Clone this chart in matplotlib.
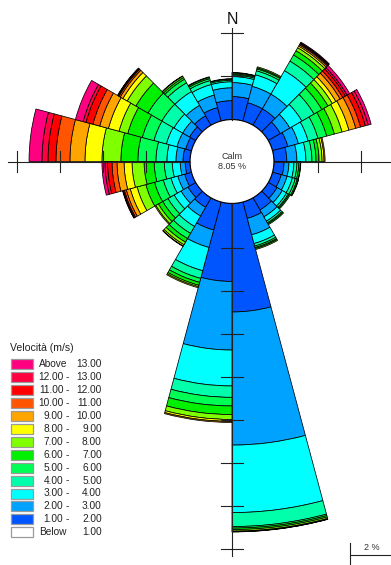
import numpy as np
import matplotlib
matplotlib.use('Agg')
import matplotlib.pyplot as plt
from matplotlib.patches import Circle, Rectangle

plt.rcParams['font.family'] = ['Liberation Sans', 'DejaVu Sans']

# ---------------- data (frequency %, 24 sectors of 15 deg, clockwise from N) -------------
sector_start = np.arange(0, 360, 15)
calm_pct = 8.05

spd_01_02 = [1.07, 0.88, 0.88, 0.65, 0.74, 0.60, 0.47, 0.42, 0.47, 0.65, 0.79, 5.05,
             3.63, 1.35, 0.51, 0.42, 0.33, 0.23, 0.33, 0.28, 0.33, 0.51, 0.65, 0.88]
spd_02_03 = [0.65, 0.79, 0.79, 0.51, 0.51, 0.47, 0.23, 0.28, 0.28, 0.37, 0.79, 6.19,
             3.19, 0.84, 0.47, 0.37, 0.33, 0.23, 0.33, 0.42, 0.37, 0.56, 0.60, 0.60]
spd_03_04 = [0.28, 0.56, 1.26, 0.65, 0.47, 0.42, 0.23, 0.26, 0.23, 0.23, 0.42, 3.14,
             1.67, 1.12, 0.56, 0.37, 0.33, 0.37, 0.42, 0.51, 0.47, 0.74, 0.51, 0.28]
spd_04_05 = [0.07, 0.19, 0.51, 0.65, 0.47, 0.28, 0.14, 0.14, 0.09, 0.09, 0.12, 0.65,
             0.53, 0.37, 0.37, 0.33, 0.37, 0.37, 0.51, 0.60, 0.65, 0.47, 0.19, 0.07]
spd_05_06 = [0.05, 0.09, 0.33, 0.42, 0.42, 0.19, 0.09, 0.09, 0.05, 0.05, 0.07, 0.07,
             0.40, 0.19, 0.28, 0.28, 0.42, 0.47, 0.84, 0.56, 0.74, 0.19, 0.09, 0.05]
spd_06_07 = [0.05, 0.05, 0.23, 0.33, 0.37, 0.14, 0.07, 0.05, 0.05, 0.05, 0.05, 0.07,
             0.40, 0.14, 0.19, 0.23, 0.42, 0.47, 0.79, 0.70, 0.65, 0.09, 0.06, 0.02]
spd_07_08 = [0.02, 0.05, 0.16, 0.23, 0.37, 0.14, 0.02, 0.02, 0.00, 0.00, 0.05, 0.07,
             0.23, 0.07, 0.14, 0.14, 0.42, 0.56, 0.88, 0.42, 0.47, 0.07, 0.03, 0.00]
spd_08_09 = [0.00, 0.00, 0.09, 0.19, 0.33, 0.09, 0.00, 0.00, 0.00, 0.00, 0.00, 0.03,
             0.09, 0.05, 0.07, 0.05, 0.33, 0.37, 0.79, 0.51, 0.23, 0.02, 0.00, 0.00]
spd_09_10 = [0.00, 0.00, 0.07, 0.23, 0.33, 0.05, 0.00, 0.00, 0.00, 0.00, 0.00, 0.01,
             0.05, 0.00, 0.02, 0.00, 0.19, 0.33, 0.70, 0.42, 0.14, 0.00, 0.00, 0.00]
spd_10_11 = [0.00, 0.00, 0.05, 0.14, 0.23, 0.00, 0.00, 0.00, 0.00, 0.00, 0.00, 0.00,
             0.00, 0.00, 0.00, 0.00, 0.09, 0.23, 0.65, 0.33, 0.07, 0.00, 0.00, 0.00]
spd_11_12 = [0.00, 0.00, 0.03, 0.14, 0.23, 0.00, 0.00, 0.00, 0.00, 0.00, 0.00, 0.00,
             0.00, 0.00, 0.00, 0.00, 0.05, 0.21, 0.37, 0.33, 0.04, 0.00, 0.00, 0.00]
spd_12_13 = [0.00, 0.00, 0.02, 0.09, 0.14, 0.00, 0.00, 0.00, 0.00, 0.00, 0.00, 0.00,
             0.00, 0.00, 0.00, 0.00, 0.02, 0.12, 0.28, 0.14, 0.02, 0.00, 0.00, 0.00]
spd_13_up = [0.00, 0.00, 0.04, 0.14, 0.14, 0.00, 0.00, 0.00, 0.00, 0.00, 0.00, 0.00,
             0.00, 0.00, 0.00, 0.00, 0.02, 0.14, 0.60, 0.37, 0.02, 0.00, 0.00, 0.00]

speed_classes = [spd_01_02, spd_02_03, spd_03_04, spd_04_05, spd_05_06, spd_06_07,
                 spd_07_08, spd_08_09, spd_09_10, spd_10_11, spd_11_12, spd_12_13, spd_13_up]
class_colors = ['#0055FF', '#00A2FF', '#00FFFF', '#00FFAA', '#00FF55', '#00F000',
                '#80FF00', '#FFFF00', '#FFA500', '#FF5500', '#FF0000', '#FF0040', '#FF0080']

legend_title = 'Velocità (m/s)'
legend_lo = ['Above', '12.00', '11.00', '10.00', '9.00', '8.00', '7.00', '6.00', '5.00',
             '4.00', '3.00', '2.00', '1.00', 'Below']
legend_hi = ['13.00', '13.00', '12.00', '11.00', '10.00', '9.00', '8.00', '7.00', '6.00',
             '5.00', '4.00', '3.00', '2.00', '1.00']
legend_colors = ['#FF0080', '#FF0040', '#FF0000', '#FF5500', '#FFA500', '#FFFF00', '#80FF00',
                 '#00F000', '#00FF55', '#00FFAA', '#00FFFF', '#00A2FF', '#0055FF', '#FFFFFF']

# ---------------- layout -------------
W, H = 391, 565
fig = plt.figure(figsize=(W / 100, H / 100), dpi=100)
cx, cy = 232.0, 161.5      # rose centre (px from top-left)
S = 21.5                   # px per 1 % unit
RM = 20.0                  # axes radius in % units
R0 = 1.95                  # calm circle radius (units)
half = RM * S
rect = [(cx - half) / W, (H - cy - half) / H, 2 * half / W, 2 * half / H]

axp = fig.add_axes(rect, projection='polar')
axp.set_theta_zero_location('N')
axp.set_theta_direction(-1)
axp.set_ylim(0, RM)
axp.axis('off')

theta = np.radians(sector_start + 7.5)
width = np.radians(15)
bottom = np.full(len(sector_start), R0)
for vals, col in zip(speed_classes, class_colors):
    v = np.asarray(vals, dtype=float)
    m = v > 0
    axp.bar(theta[m], v[m], width=width, bottom=bottom[m], color=col,
            edgecolor='black', linewidth=0.55, align='center')
    bottom = bottom + v

# overlay cartesian axes for the cross, ticks, calm circle, labels
axo = fig.add_axes(rect)
axo.set_xlim(-RM, RM)
axo.set_ylim(-RM, RM)
axo.axis('off')
axo.patch.set_alpha(0)

axo.add_patch(Circle((0, 0), R0, facecolor='white', edgecolor='black', lw=0.8, zorder=3))
axo.text(0, 0.22, 'Calm', ha='center', va='center', fontsize=6.5, color='#333333', zorder=4)
axo.text(0, -0.21, '8.05 %', ha='center', va='center', fontsize=6.5, color='#333333', zorder=4)

lc = '#222222'
up, down, left, right = 6.2, 18.33, 10.42, 8.5
tl = 0.49
axo.plot([0, 0], [R0, up], color=lc, lw=0.8, zorder=5)
axo.plot([0, 0], [-R0, -down], color=lc, lw=0.8, zorder=5)
axo.plot([-R0, -left], [0, 0], color=lc, lw=0.8, zorder=5)
axo.plot([R0, right], [0, 0], color=lc, lw=0.8, zorder=5)
ticks = np.arange(4, 20, 2)
for r in ticks:
    if r <= up:
        axo.plot([-tl, tl], [r, r], color=lc, lw=0.8, zorder=5)
    if r <= down:
        axo.plot([-tl, tl], [-r, -r], color=lc, lw=0.8, zorder=5)
    if r <= left:
        axo.plot([-r, -r], [-tl, tl], color=lc, lw=0.8, zorder=5)
    if r <= right:
        axo.plot([r, r], [-tl, tl], color=lc, lw=0.8, zorder=5)

axo.text(0, (cy - 19) / S, 'N', ha='center', va='center', fontsize=11.5, color='#111111')

# scale bar (2 %)
sx0 = (350 - cx) / S
sy = (cy - 555) / S
axo.plot([sx0, sx0 + 2], [sy, sy], color=lc, lw=0.8, clip_on=False)
axo.plot([sx0, sx0], [(cy - 543) / S, (cy - 570) / S], color=lc, lw=0.8, clip_on=False)
axo.text(sx0 + 1.02, sy + 0.12, '2 %', ha='center', va='bottom', fontsize=6.5, color='#333333')

# ---------------- legend -------------
def fx(px):
    return px / W

def fy(py):
    return 1 - py / H

fs = 7.3
tc = '#222222'
fig.text(fx(10.5), fy(348), legend_title, ha='left', va='center', fontsize=7.6, color=tc)
row0, dy = 364.3, 12.92
for i, (lo, hi, col) in enumerate(zip(legend_lo, legend_hi, legend_colors)):
    yc = row0 + i * dy
    fig.add_artist(Rectangle((fx(10.5), fy(yc + 5)), 22 / W, 10 / H, transform=fig.transFigure,
                             facecolor=col, edgecolor='#9a9a9a', lw=0.9))
    if lo in ('Above', 'Below'):
        fig.text(fx(39), fy(yc), lo, ha='left', va='center', fontsize=fs, color=tc)
    else:
        fig.text(fx(63.3), fy(yc), lo, ha='right', va='center', fontsize=fs, color=tc)
        fig.text(fx(67.3), fy(yc), '-', ha='center', va='center', fontsize=fs, color=tc)
    fig.text(fx(101.7), fy(yc), hi, ha='right', va='center', fontsize=fs, color=tc)

fig.savefig('out.png', dpi=100)
